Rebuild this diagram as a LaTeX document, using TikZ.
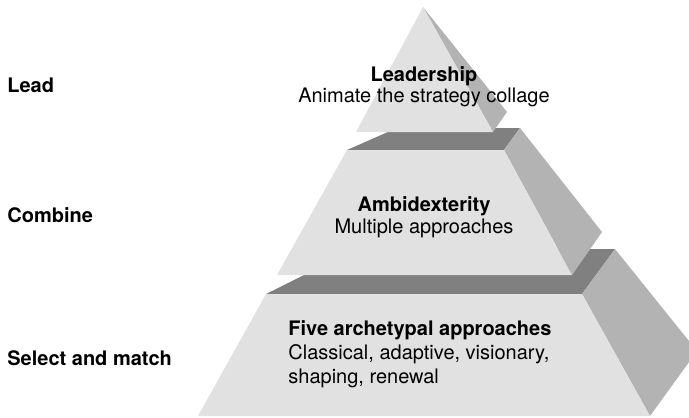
\documentclass[tikz,border=0pt]{standalone}
\usepackage{fontspec}
\setmainfont{TeX Gyre Heros}
\usepackage{tikz}
\definecolor{FrontGrey}{HTML}{E1E1E1}
\definecolor{SideGrey}{HTML}{B3B3B3}
\definecolor{TopGrey}{HTML}{808080}

\begin{document}
\begin{tikzpicture}[x=0.5pt,y=-0.5pt,%
  FrontStyle/.style={fill=FrontGrey},
  SideStyle/.style={fill=SideGrey},
  TopStyle/.style={fill=TopGrey},
  LevelStyle/.style={anchor=base west,inner sep=0pt,font=\fontsize{10}{12}\selectfont\bfseries},
  TextStyle/.style={anchor=base,inner sep=0pt,align=center}]
  \useasboundingbox (0,0) rectangle (689,417);
  \clip (0,0) rectangle (689,417);
  % bottom block: front, top and right corners
  \coordinate (c0) at (198,416);  \coordinate (c1) at (650,416);
  \coordinate (c2) at (582,294);  \coordinate (c3) at (266,294);
  \coordinate (c4) at (356,249);  \coordinate (c5) at (615,249);
  \coordinate (c6) at (697,351);
  \fill[TopStyle]   (c3) -- (c2) -- (c5) -- (c4) -- cycle;
  \fill[SideStyle]  (c2) -- (c5) -- (c6) -- (c1) -- cycle;
  \fill[FrontStyle] (c0) -- (c1) -- (c2) -- (c3) -- cycle;
  % middle block
  \coordinate (b0) at (277,275);  \coordinate (b1) at (572,275);
  \coordinate (b2) at (504,150);  \coordinate (b3) at (347,150);
  \coordinate (b4) at (397,128);  \coordinate (b5) at (520,128);
  \coordinate (b6) at (602,232);
  \fill[TopStyle]   (b3) -- (b2) -- (b5) -- (b4) -- cycle;
  \fill[SideStyle]  (b2) -- (b5) -- (b6) -- (b1) -- cycle;
  \fill[FrontStyle] (b0) -- (b1) -- (b2) -- (b3) -- cycle;
  % top block
  \coordinate (a0) at (356,132);  \coordinate (a1) at (493,132);
  \coordinate (a2) at (423,7);    \coordinate (a3) at (507,112);
  \fill[SideStyle]  (a1) -- (a2) -- (a3) -- cycle;
  \fill[FrontStyle] (a0) -- (a1) -- (a2) -- cycle;
  % level names on the left
  \node[LevelStyle] (lead)    at (7,92)  {Lead};
  \node[LevelStyle] (combine) at (7,222) {Combine};
  \node[LevelStyle] (select)  at (7,365) {Select and match};
  % texts inside the blocks (base = last line)
  \node[TextStyle,font=\fontsize{10}{10.5}\selectfont] (leader) at (424,103)
    {\textbf{Leadership}\\Animate the strategy collage};
  \node[TextStyle,font=\fontsize{10}{11}\selectfont] (ambi) at (424,233)
    {\textbf{Ambidexterity}\\Multiple approaches};
  \node[TextStyle,anchor=base west,align=left,font=\fontsize{10}{12}\selectfont] (five) at (288,383)
    {\textbf{Five archetypal approaches}\\Classical, adaptive, visionary,\\shaping, renewal};
\end{tikzpicture}
\end{document}
